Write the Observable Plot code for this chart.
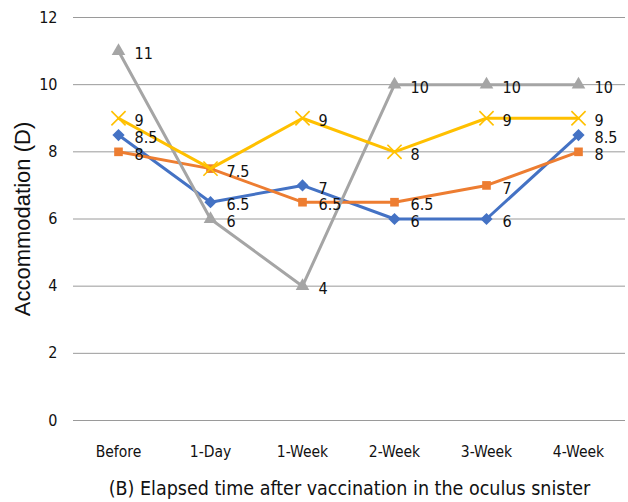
<!DOCTYPE html>
<html>
<head>
<meta charset="utf-8">
<script src="https://cdn.jsdelivr.net/npm/d3@7"></script>
<script src="https://cdn.jsdelivr.net/npm/@observablehq/plot@0.6"></script>
<style>
  body { margin: 0; background: #fff; }
  #chart svg { display: block; }
</style>
</head>
<body>
<div id="chart"></div>
<script>
const categories = ["Before", "1-Day", "1-Week", "2-Week", "3-Week", "4-Week"];
const blueValues   = [8.5, 6.5, 7, 6, 6, 8.5];
const orangeValues = [8, 7.5, 6.5, 6.5, 7, 8];
const grayValues   = [11, 6, 4, 10, 10, 10];
const yellowValues = [9, 7.5, 9, 8, 9, 9];
const yTicks = [0, 2, 4, 6, 8, 10, 12];
const yLabel = "Accommodation (D)";
const caption = "(B) Elapsed time after vaccination in the oculus snister";

const seriesDefs = [
  {name: "blue", values: blueValues, color: "#4472C4", symbol: "diamond2", r: 5.5},
  {name: "orange", values: orangeValues, color: "#ED7D31", symbol: "square2", r: 5.5},
  {name: "gray", values: grayValues, color: "#A5A5A5", symbol: "triangle2", r: 6.5},
  {name: "yellow", values: yellowValues, color: "#FFC000", symbol: "times", r: 6.5}
];

const font = "'DejaVu Sans Condensed', 'Liberation Sans Narrow', sans-serif";

const marks = [
  Plot.gridY(yTicks, {stroke: "#9a9a9a", strokeOpacity: 1, strokeWidth: 1}),
  Plot.ruleX([0], {frameAnchor: "left", stroke: "#9a9a9a"}),
  Plot.axisY(yTicks, {tickSize: 0, tickPadding: 16, fontSize: 16, label: null, fill: "#111"}),
  Plot.axisX({tickSize: 0, tickPadding: 25, fontSize: 15.5, label: null, fill: "#111"})
];

for (const s of seriesDefs) {
  const rows = categories.map((c, i) => ({cat: c, v: s.values[i]}));
  marks.push(Plot.line(rows, {x: "cat", y: "v", stroke: s.color, strokeWidth: 3}));
  if (s.symbol === "times") {
    marks.push(Plot.dot(rows, {x: "cat", y: "v", symbol: "times", r: s.r, stroke: s.color, strokeWidth: 1.6}));
  } else {
    marks.push(Plot.dot(rows, {x: "cat", y: "v", symbol: s.symbol, r: s.r, fill: s.color, stroke: "none"}));
  }
}

// value labels (coincident identical labels are shown once, as in the reference)
const labelRows = [];
const seen = new Set();
for (const s of seriesDefs) {
  categories.forEach((c, i) => {
    const key = c + "|" + s.values[i];
    if (!seen.has(key)) { seen.add(key); labelRows.push({cat: c, v: s.values[i]}); }
  });
}
marks.push(Plot.text(labelRows, {x: "cat", y: "v", text: d => String(d.v), dx: 16, dy: 3, textAnchor: "start", fontSize: 16, fill: "#111"}));

marks.push(Plot.text([yLabel], {frameAnchor: "left", textAnchor: "middle", lineAnchor: "middle", dx: -51, rotate: -90, fontSize: 22, fill: "#111", fontFamily: "'Liberation Sans', Arial, sans-serif", style: "letter-spacing: 0.8px"}));
marks.push(Plot.text([caption], {frameAnchor: "bottom", textAnchor: "middle", lineAnchor: "middle", dy: 68, fontSize: 19.5, fill: "#111"}));

const chart = Plot.plot({
  width: 628,
  height: 502,
  marginLeft: 73,
  marginRight: 3,
  marginTop: 17,
  marginBottom: 82,
  style: {fontFamily: font, background: "#fff"},
  x: {type: "point", domain: categories, range: [117, 578], padding: 0},
  y: {domain: [0, 12]},
  marks
});
document.getElementById("chart").appendChild(chart);
</script>
</body>
</html>
